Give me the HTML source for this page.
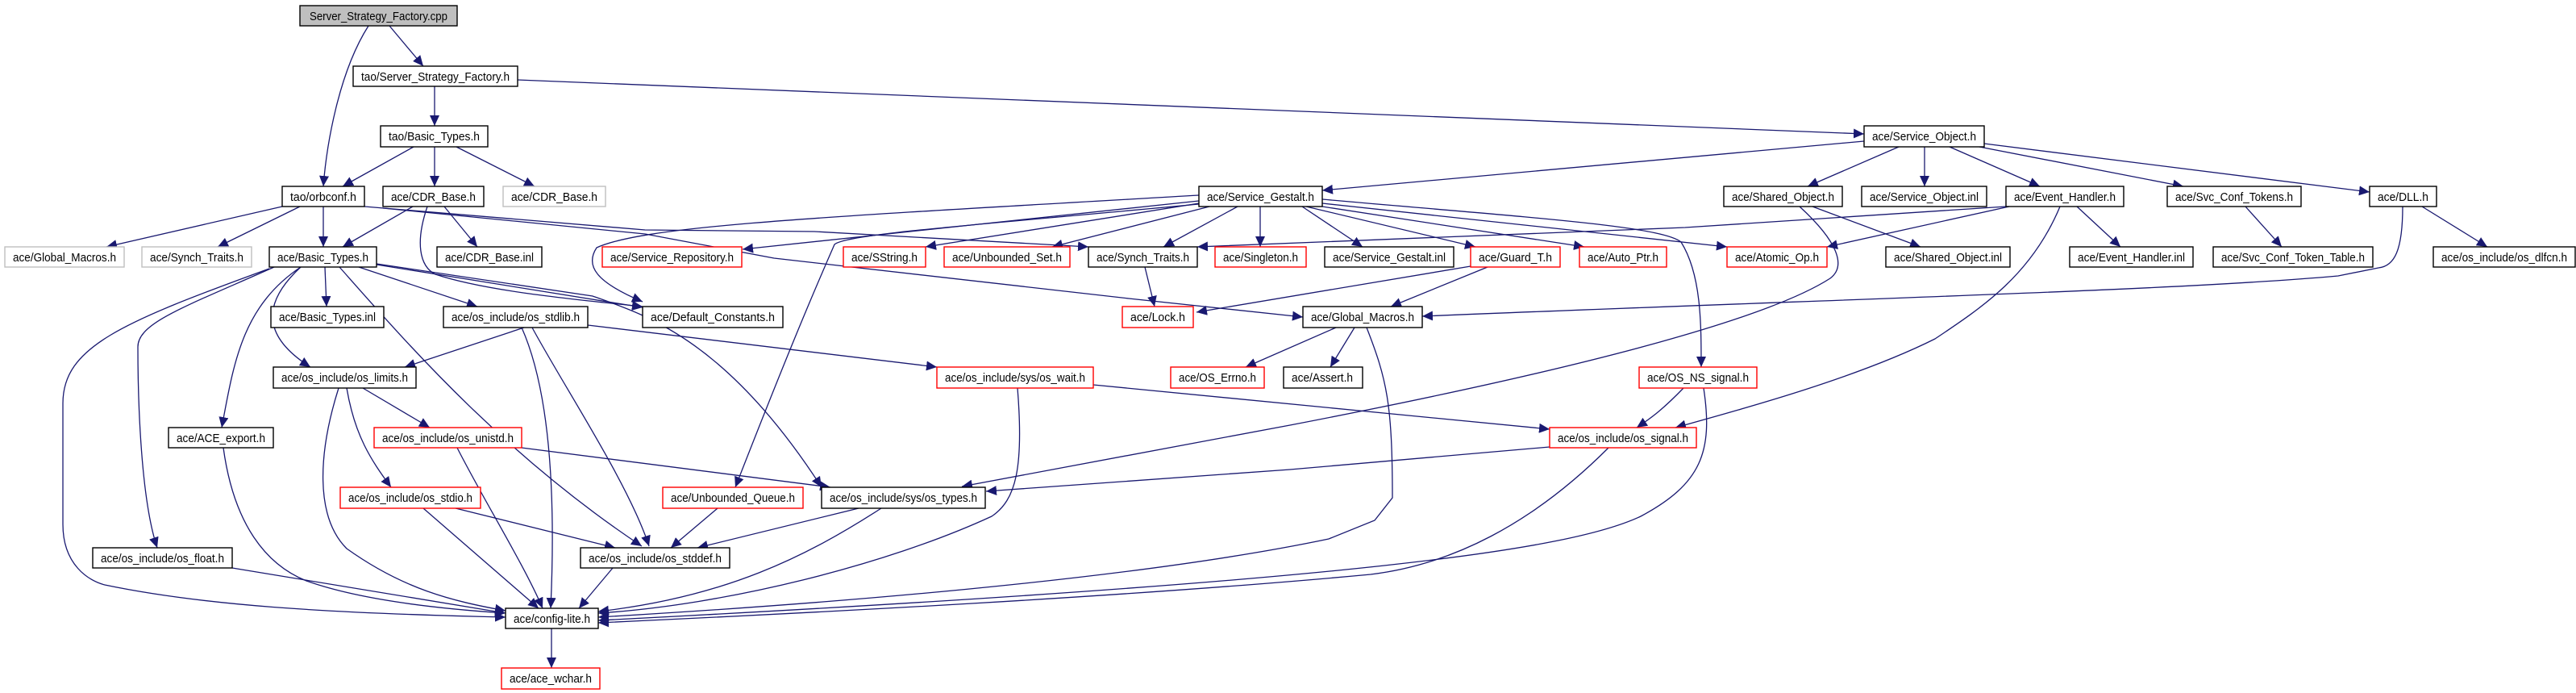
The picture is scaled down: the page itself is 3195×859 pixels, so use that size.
<!DOCTYPE html>
<html><head><meta charset="utf-8"><style>
html,body{margin:0;padding:0;background:#fff;width:3195px;height:859px;overflow:hidden}
svg{display:block}
text{font-family:"Liberation Sans",sans-serif;font-size:15px;fill:#000}
.e{fill:none;stroke:#191970;stroke-width:1.3}
.n{fill:#fff;stroke:#000;stroke-width:1.4}
.r{fill:#fff;stroke:#f00;stroke-width:1.4}
.g{fill:#fff;stroke:#bfbfbf;stroke-width:1.4}
</style></head><body>
<svg width="3195" height="859" viewBox="0 0 3195 859" xmlns="http://www.w3.org/2000/svg">
<defs><marker id="a" markerUnits="userSpaceOnUse" markerWidth="14" markerHeight="12" refX="13" refY="6" orient="auto"><path d="M0,0 L13,6 L0,12 z" fill="#191970"/></marker></defs>
<g class="e" marker-end="url(#a)">
<path d="M483,32 L525,82"/>
<path d="M457,32 C420,90 405,180 401,231"/>
<path d="M642,99 L2312,166"/>
<path d="M539,107 L539,156"/>
<path d="M513,182 L425,231"/>
<path d="M539,182 L539,231"/>
<path d="M566,182 L663,231"/>
<path d="M350,256 L132,306"/>
<path d="M372,256 L270,306"/>
<path d="M401,256 L401,306"/>
<path d="M452,256 L800,285 L1010,287 L1350,306"/>
<path d="M475,258 L800,290 L960,320 L1400,370 L1616,393"/>
<path d="M512,256 L425,306"/>
<path d="M551,256 L592,306"/>
<path d="M530,256 C515,300 520,330 540,340 C600,360 700,370 797,380"/>
<path d="M403,331 L405,380"/>
<path d="M445,331 L592,380"/>
<path d="M467,328 L797,381"/>
<path d="M467,327 L735,367 C800,390 900,420 1019,604"/>
<path d="M373,331 C320,380 330,420 385,455"/>
<path d="M373,331 C300,380 290,450 275,530"/>
<path d="M340,331 C230,380 171,400 171,430 C171,500 175,620 195,679"/>
<path d="M334,333 C150,400 78,430 78,500 L78,650 C78,700 110,720 130,725 C250,750 400,760 627,765"/>
<path d="M421,331 C500,420 620,560 796,677"/>
<path d="M1487,242 C1000,270 800,280 740,307 C725,330 740,350 797,374"/>
<path d="M1487,249 L921,309"/>
<path d="M1487,252 L1148,306"/>
<path d="M1500,256 L1305,306"/>
<path d="M1535,256 L1443,306"/>
<path d="M1563,256 L1563,306"/>
<path d="M1615,256 L1690,306"/>
<path d="M1620,256 L1830,306"/>
<path d="M1640,256 L1965,306"/>
<path d="M1640,252 L2142,306"/>
<path d="M1640,247 C1900,270 2060,280 2085,300 C2110,340 2110,400 2110,455"/>
<path d="M1487,253 C1200,280 1050,290 1035,303 C1010,360 980,430 912,604"/>
<path d="M1824,330 L1484,387"/>
<path d="M1845,331 L1725,380"/>
<path d="M1420,331 L1432,380"/>
<path d="M2312,175 L1640,236"/>
<path d="M2355,182 L2242,231"/>
<path d="M2387,182 L2387,231"/>
<path d="M2418,182 L2530,231"/>
<path d="M2455,182 L2708,231"/>
<path d="M2461,178 L2939,238"/>
<path d="M2248,256 L2382,306"/>
<path d="M2232,256 C2280,300 2290,330 2270,345 C2200,390 2000,450 1600,527 L1193,603"/>
<path d="M2492,256 L2266,306"/>
<path d="M2488,256 L2090,282 L1485,306"/>
<path d="M2576,256 L2630,306"/>
<path d="M2555,256 C2520,340 2460,380 2400,420 C2300,470 2150,510 2078,530"/>
<path d="M2785,256 L2830,306"/>
<path d="M3004,256 L3085,306"/>
<path d="M2980,256 C2980,310 2970,330 2950,332 L2900,342 C2700,360 2300,370 1764,392"/>
<path d="M1657,406 L1545,455"/>
<path d="M1680,406 L1650,455"/>
<path d="M1695,406 C1720,470 1727,500 1727,617 L1705,645 L1648,668 C1400,720 1000,750 742,765"/>
<path d="M1356,477 L1922,532"/>
<path d="M1262,481 C1270,580 1260,620 1230,640 C1100,700 900,750 742,760"/>
<path d="M650,406 L502,455"/>
<path d="M729,403 L1162,455"/>
<path d="M647,406 C680,480 690,600 683,754"/>
<path d="M660,406 C700,480 780,600 805,677"/>
<path d="M450,481 L533,530"/>
<path d="M430,481 C440,540 460,570 485,604"/>
<path d="M420,481 C395,560 390,640 430,680 C500,730 560,745 627,757"/>
<path d="M647,555 L1030,604"/>
<path d="M567,555 C600,620 650,700 673,754"/>
<path d="M565,630 L763,679"/>
<path d="M525,630 L668,754"/>
<path d="M277,555 C290,650 330,700 380,720 C450,745 550,755 627,760"/>
<path d="M288,704 L627,760"/>
<path d="M890,630 L832,679"/>
<path d="M1065,630 L865,679"/>
<path d="M1093,630 C1000,690 900,740 742,758"/>
<path d="M760,704 L718,754"/>
<path d="M684,779 L684,828"/>
<path d="M2088,481 C2060,510 2045,520 2030,530"/>
<path d="M2113,481 C2125,560 2110,600 2035,640 C1950,680 1700,720 742,769"/>
<path d="M1995,555 C1900,650 1800,700 1700,712 C1400,740 1000,760 742,772"/>
<path d="M1922,554 L1600,582 L1223,609"/>
</g>
<rect x="372" y="7" width="195" height="25" fill="#bfbfbf" stroke="#000" stroke-width="1.4"/><text x="384" y="25" textLength="171" lengthAdjust="spacingAndGlyphs">Server_Strategy_Factory.cpp</text>
<rect class="n" x="438" y="82" width="204" height="25"/><text x="448" y="100" textLength="184" lengthAdjust="spacingAndGlyphs">tao/Server_Strategy_Factory.h</text>
<rect class="n" x="472" y="156" width="133" height="26"/><text x="482" y="174" textLength="113" lengthAdjust="spacingAndGlyphs">tao/Basic_Types.h</text>
<rect class="n" x="2312" y="156" width="149" height="26"/><text x="2322" y="174" textLength="129" lengthAdjust="spacingAndGlyphs">ace/Service_Object.h</text>
<rect class="n" x="350" y="231" width="102" height="25"/><text x="360" y="249" textLength="82" lengthAdjust="spacingAndGlyphs">tao/orbconf.h</text>
<rect class="n" x="475" y="231" width="125" height="25"/><text x="485" y="249" textLength="105" lengthAdjust="spacingAndGlyphs">ace/CDR_Base.h</text>
<rect class="g" x="624" y="231" width="127" height="25"/><text x="634" y="249" textLength="107" lengthAdjust="spacingAndGlyphs">ace/CDR_Base.h</text>
<rect class="n" x="1487" y="231" width="153" height="25"/><text x="1497" y="249" textLength="133" lengthAdjust="spacingAndGlyphs">ace/Service_Gestalt.h</text>
<rect class="n" x="2138" y="231" width="147" height="25"/><text x="2148" y="249" textLength="127" lengthAdjust="spacingAndGlyphs">ace/Shared_Object.h</text>
<rect class="n" x="2309" y="231" width="155" height="25"/><text x="2319" y="249" textLength="135" lengthAdjust="spacingAndGlyphs">ace/Service_Object.inl</text>
<rect class="n" x="2488" y="231" width="146" height="25"/><text x="2498" y="249" textLength="126" lengthAdjust="spacingAndGlyphs">ace/Event_Handler.h</text>
<rect class="n" x="2688" y="231" width="166" height="25"/><text x="2698" y="249" textLength="146" lengthAdjust="spacingAndGlyphs">ace/Svc_Conf_Tokens.h</text>
<rect class="n" x="2939" y="231" width="83" height="25"/><text x="2949" y="249" textLength="63" lengthAdjust="spacingAndGlyphs">ace/DLL.h</text>
<rect class="g" x="6" y="306" width="148" height="25"/><text x="16" y="324" textLength="128" lengthAdjust="spacingAndGlyphs">ace/Global_Macros.h</text>
<rect class="g" x="176" y="306" width="136" height="25"/><text x="186" y="324" textLength="116" lengthAdjust="spacingAndGlyphs">ace/Synch_Traits.h</text>
<rect class="n" x="334" y="306" width="133" height="25"/><text x="344" y="324" textLength="113" lengthAdjust="spacingAndGlyphs">ace/Basic_Types.h</text>
<rect class="n" x="542" y="306" width="130" height="25"/><text x="552" y="324" textLength="110" lengthAdjust="spacingAndGlyphs">ace/CDR_Base.inl</text>
<rect class="r" x="747" y="306" width="173" height="25"/><text x="757" y="324" textLength="153" lengthAdjust="spacingAndGlyphs">ace/Service_Repository.h</text>
<rect class="r" x="1046" y="306" width="102" height="25"/><text x="1056" y="324" textLength="82" lengthAdjust="spacingAndGlyphs">ace/SString.h</text>
<rect class="r" x="1171" y="306" width="156" height="25"/><text x="1181" y="324" textLength="136" lengthAdjust="spacingAndGlyphs">ace/Unbounded_Set.h</text>
<rect class="n" x="1350" y="306" width="135" height="25"/><text x="1360" y="324" textLength="115" lengthAdjust="spacingAndGlyphs">ace/Synch_Traits.h</text>
<rect class="r" x="1507" y="306" width="113" height="25"/><text x="1517" y="324" textLength="93" lengthAdjust="spacingAndGlyphs">ace/Singleton.h</text>
<rect class="n" x="1643" y="306" width="160" height="25"/><text x="1653" y="324" textLength="140" lengthAdjust="spacingAndGlyphs">ace/Service_Gestalt.inl</text>
<rect class="r" x="1824" y="306" width="111" height="25"/><text x="1834" y="324" textLength="91" lengthAdjust="spacingAndGlyphs">ace/Guard_T.h</text>
<rect class="r" x="1959" y="306" width="108" height="25"/><text x="1969" y="324" textLength="88" lengthAdjust="spacingAndGlyphs">ace/Auto_Ptr.h</text>
<rect class="r" x="2142" y="306" width="124" height="25"/><text x="2152" y="324" textLength="104" lengthAdjust="spacingAndGlyphs">ace/Atomic_Op.h</text>
<rect class="n" x="2339" y="306" width="154" height="25"/><text x="2349" y="324" textLength="134" lengthAdjust="spacingAndGlyphs">ace/Shared_Object.inl</text>
<rect class="n" x="2567" y="306" width="153" height="25"/><text x="2577" y="324" textLength="133" lengthAdjust="spacingAndGlyphs">ace/Event_Handler.inl</text>
<rect class="n" x="2745" y="306" width="198" height="25"/><text x="2755" y="324" textLength="178" lengthAdjust="spacingAndGlyphs">ace/Svc_Conf_Token_Table.h</text>
<rect class="n" x="3018" y="306" width="176" height="25"/><text x="3028" y="324" textLength="156" lengthAdjust="spacingAndGlyphs">ace/os_include/os_dlfcn.h</text>
<rect class="n" x="336" y="380" width="140" height="26"/><text x="346" y="398" textLength="120" lengthAdjust="spacingAndGlyphs">ace/Basic_Types.inl</text>
<rect class="n" x="550" y="380" width="179" height="26"/><text x="560" y="398" textLength="159" lengthAdjust="spacingAndGlyphs">ace/os_include/os_stdlib.h</text>
<rect class="n" x="797" y="380" width="174" height="26"/><text x="807" y="398" textLength="154" lengthAdjust="spacingAndGlyphs">ace/Default_Constants.h</text>
<rect class="r" x="1392" y="380" width="88" height="26"/><text x="1402" y="398" textLength="68" lengthAdjust="spacingAndGlyphs">ace/Lock.h</text>
<rect class="n" x="1616" y="380" width="148" height="26"/><text x="1626" y="398" textLength="128" lengthAdjust="spacingAndGlyphs">ace/Global_Macros.h</text>
<rect class="n" x="339" y="455" width="177" height="26"/><text x="349" y="473" textLength="157" lengthAdjust="spacingAndGlyphs">ace/os_include/os_limits.h</text>
<rect class="r" x="1162" y="455" width="194" height="26"/><text x="1172" y="473" textLength="174" lengthAdjust="spacingAndGlyphs">ace/os_include/sys/os_wait.h</text>
<rect class="r" x="1452" y="455" width="116" height="26"/><text x="1462" y="473" textLength="96" lengthAdjust="spacingAndGlyphs">ace/OS_Errno.h</text>
<rect class="n" x="1592" y="455" width="98" height="26"/><text x="1602" y="473" textLength="76" lengthAdjust="spacingAndGlyphs">ace/Assert.h</text>
<rect class="r" x="2033" y="455" width="146" height="26"/><text x="2043" y="473" textLength="126" lengthAdjust="spacingAndGlyphs">ace/OS_NS_signal.h</text>
<rect class="n" x="209" y="530" width="130" height="25"/><text x="219" y="548" textLength="110" lengthAdjust="spacingAndGlyphs">ace/ACE_export.h</text>
<rect class="r" x="464" y="530" width="183" height="25"/><text x="474" y="548" textLength="163" lengthAdjust="spacingAndGlyphs">ace/os_include/os_unistd.h</text>
<rect class="r" x="1922" y="530" width="182" height="25"/><text x="1932" y="548" textLength="162" lengthAdjust="spacingAndGlyphs">ace/os_include/os_signal.h</text>
<rect class="r" x="422" y="604" width="174" height="26"/><text x="432" y="622" textLength="154" lengthAdjust="spacingAndGlyphs">ace/os_include/os_stdio.h</text>
<rect class="r" x="822" y="604" width="174" height="26"/><text x="832" y="622" textLength="154" lengthAdjust="spacingAndGlyphs">ace/Unbounded_Queue.h</text>
<rect class="n" x="1019" y="604" width="203" height="26"/><text x="1029" y="622" textLength="183" lengthAdjust="spacingAndGlyphs">ace/os_include/sys/os_types.h</text>
<rect class="n" x="115" y="679" width="173" height="25"/><text x="125" y="697" textLength="153" lengthAdjust="spacingAndGlyphs">ace/os_include/os_float.h</text>
<rect class="n" x="720" y="679" width="185" height="25"/><text x="730" y="697" textLength="165" lengthAdjust="spacingAndGlyphs">ace/os_include/os_stddef.h</text>
<rect class="n" x="627" y="754" width="115" height="25"/><text x="637" y="772" textLength="95" lengthAdjust="spacingAndGlyphs">ace/config-lite.h</text>
<rect class="r" x="622" y="828" width="122" height="26"/><text x="632" y="846" textLength="102" lengthAdjust="spacingAndGlyphs">ace/ace_wchar.h</text>
</svg>
</body></html>
